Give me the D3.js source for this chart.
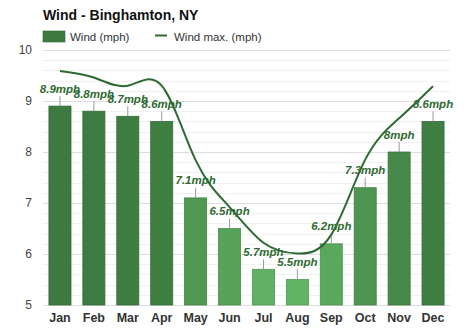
<!DOCTYPE html>
<html>
<head>
<meta charset="utf-8">
<script src="https://cdn.jsdelivr.net/npm/d3@7"></script>
<style>
  html, body { margin: 0; padding: 0; background: #fff; }
  svg { display: block; font-family: "Liberation Sans", Arial, sans-serif; }
</style>
</head>
<body>
<svg id="chart" width="474" height="331"></svg>
<script>
// Monthly average wind speed and average maximum wind speed (mph)
const months = ["Jan", "Feb", "Mar", "Apr", "May", "Jun", "Jul", "Aug", "Sep", "Oct", "Nov", "Dec"];
const windAvg = [8.9, 8.8, 8.7, 8.6, 7.1, 6.5, 5.7, 5.5, 6.2, 7.3, 8, 8.6];
const windMax = [9.59, 9.46, 9.30, 9.30, 7.84, 6.92, 6.22, 6.01, 6.38, 7.85, 8.66, 9.29];
const yTicks = [5, 6, 7, 8, 9, 10];

const svg = d3.select("#chart");
const margin = { top: 50, right: 24, bottom: 26, left: 43 };
const W = 474, H = 331;

const x = d3.scaleBand()
  .domain(months)
  .range([margin.left, W - margin.right])
  .paddingInner(0.35)
  .paddingOuter(0.175);

const y = d3.scaleLinear()
  .domain([5, 10])
  .range([H - margin.bottom, margin.top]);

const color = d3.scaleLinear()
  .domain([5.5, 8.9])
  .range(["#62b465", "#3c7a3f"]);

// Title
svg.append("text")
  .attr("x", 43).attr("y", 19.5)
  .attr("font-size", 14).attr("font-weight", "bold").attr("fill", "#111")
  .text("Wind - Binghamton, NY");

// Legend
const legend = svg.append("g");
legend.append("rect")
  .attr("x", 43).attr("y", 31).attr("width", 22).attr("height", 11)
  .attr("fill", "#3c7a3f").attr("stroke", "#2f6633").attr("stroke-width", 0.6);
legend.append("text")
  .attr("x", 70).attr("y", 40.5).attr("font-size", 11.5).attr("fill", "#333")
  .text("Wind (mph)");
legend.append("line")
  .attr("x1", 155).attr("x2", 167).attr("y1", 35.5).attr("y2", 35.5)
  .attr("stroke", "#2d6b33").attr("stroke-width", 2);
legend.append("text")
  .attr("x", 174).attr("y", 40.5).attr("font-size", 11.5).attr("fill", "#333")
  .text("Wind max. (mph)");

// Grid: faint minor lines and stronger lines at whole values
const [x0, x1] = x.range();
const minor = d3.range(5, 10.001, 0.2).filter(v => Math.abs(v - Math.round(v)) > 1e-6);
svg.append("g").selectAll("line").data(minor).join("line")
  .attr("x1", x0).attr("x2", x1)
  .attr("y1", d => Math.round(y(d)) + 0.5).attr("y2", d => Math.round(y(d)) + 0.5)
  .attr("stroke", "#f1f1f1").attr("stroke-width", 1);
svg.append("g").selectAll("line").data(yTicks).join("line")
  .attr("x1", x0).attr("x2", x1)
  .attr("y1", d => Math.round(y(d)) + 0.5).attr("y2", d => Math.round(y(d)) + 0.5)
  .attr("stroke", "#dedede").attr("stroke-width", 1);

// Y axis labels
const yAxis = svg.append("g")
  .attr("transform", `translate(${x0 - 11},0)`)
  .call(d3.axisLeft(y).tickValues(yTicks).tickSize(0).tickFormat(d3.format("d")));
yAxis.select(".domain").remove();
yAxis.selectAll("text")
  .attr("font-family", "Liberation Sans, Arial, sans-serif")
  .attr("font-size", 12).attr("fill", "#444").attr("x", 0);

// X axis labels
const xAxis = svg.append("g")
  .attr("transform", `translate(0,${H - margin.bottom})`)
  .call(d3.axisBottom(x).tickSize(0));
xAxis.select(".domain").remove();
xAxis.selectAll("text")
  .attr("font-family", "Liberation Sans, Arial, sans-serif")
  .attr("font-size", 12.5).attr("font-weight", "bold").attr("fill", "#333")
  .attr("dy", "1.1em");

// Bars
svg.append("g").selectAll("rect").data(months).join("rect")
  .attr("x", d => x(d))
  .attr("y", (d, i) => y(windAvg[i]))
  .attr("width", x.bandwidth())
  .attr("height", (d, i) => y(5) - y(windAvg[i]))
  .attr("fill", (d, i) => color(windAvg[i]))
  .attr("stroke", (d, i) => d3.color(color(windAvg[i])).darker(0.45))
  .attr("stroke-width", 0.8);

// Leader lines and value labels
const cx = d => x(d) + x.bandwidth() / 2;
svg.append("g").selectAll("line").data(months).join("line")
  .attr("x1", cx).attr("x2", cx)
  .attr("y1", (d, i) => y(windAvg[i])).attr("y2", (d, i) => y(windAvg[i]) - 10)
  .attr("stroke", "#9a9a9a").attr("stroke-width", 1);
svg.append("g").selectAll("text").data(months).join("text")
  .attr("x", cx)
  .attr("y", (d, i) => y(windAvg[i]) - 13.5)
  .attr("text-anchor", "middle")
  .attr("font-size", 11.5).attr("font-weight", "bold").attr("font-style", "italic")
  .attr("fill", "#2f6a33")
  .text((d, i) => d3.format("~g")(windAvg[i]) + "mph");

// Maximum wind line
const line = d3.line()
  .x((d, i) => cx(months[i]))
  .y(d => y(d))
  .curve(d3.curveNatural);
svg.append("path")
  .datum(windMax)
  .attr("d", line)
  .attr("fill", "none")
  .attr("stroke", "#2d6b33")
  .attr("stroke-width", 2);
</script>
</body>
</html>
